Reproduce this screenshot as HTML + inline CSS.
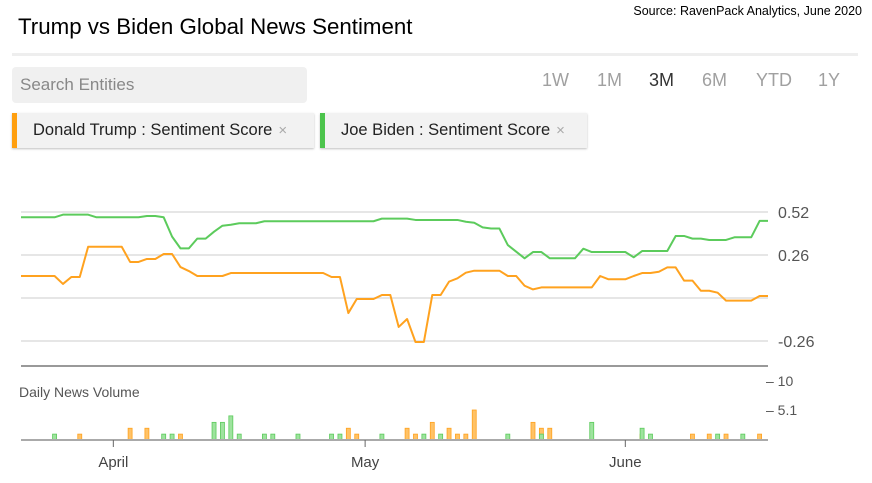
<!DOCTYPE html>
<html><head><meta charset="utf-8"><style>
body{margin:0;background:#fff;width:872px;height:483px;overflow:hidden;font-family:"Liberation Sans",sans-serif;position:relative}
.abs{position:absolute}
.rng{position:absolute;top:70px;font-size:18px;color:#a0a0a0}
.chip{position:absolute;top:113px;height:35px;background:#f2f2f2;box-shadow:0 1px 2px rgba(0,0,0,.25);font-size:16.5px;color:#222;line-height:35px;box-sizing:border-box;padding-left:16px}
.x{color:#aaa;font-size:15px;margin-left:6px}
</style></head><body>
<div class="abs" style="right:10px;top:4px;font-size:12.5px;color:#000">Source: RavenPack Analytics, June 2020</div>
<div class="abs" style="left:18px;top:14px;font-size:22.3px;color:#000">Trump vs Biden Global News Sentiment</div>
<div class="abs" style="left:12px;top:53px;width:846px;height:3px;background:#eee"></div>
<div class="abs" style="left:12px;top:67px;width:295px;height:36px;background:#f0f0f0;border-radius:4px;font-size:17px;color:#888;line-height:36px;padding-left:8px;box-sizing:border-box">Search Entities</div>
<div class="rng" style="left:542px">1W</div>
<div class="rng" style="left:597px">1M</div>
<div class="rng" style="left:649px;color:#333">3M</div>
<div class="rng" style="left:702px">6M</div>
<div class="rng" style="left:756px">YTD</div>
<div class="rng" style="left:818px">1Y</div>
<div class="chip" style="left:12px;width:302px;border-left:5px solid #ff9f0f">Donald Trump : Sentiment Score<span class="x">×</span></div>
<div class="chip" style="left:320px;width:267px;border-left:5px solid #4cc44c">Joe Biden : Sentiment Score<span class="x">×</span></div>
<svg id="chart" class="abs" style="left:0;top:0" width="872" height="483"></svg>
<script>
const trump=[0.133,0.133,0.133,0.133,0.133,0.085,0.127,0.127,0.31,0.31,0.31,0.31,0.31,0.218,0.218,0.236,0.236,0.266,0.266,0.187,0.163,0.133,0.133,0.133,0.133,0.151,0.151,0.151,0.151,0.151,0.151,0.151,0.151,0.151,0.151,0.151,0.151,0.127,0.127,-0.091,-0.006,-0.006,-0.006,0.018,0.018,-0.175,-0.127,-0.266,-0.266,0.018,0.018,0.099,0.119,0.153,0.165,0.165,0.165,0.165,0.133,0.133,0.074,0.052,0.064,0.064,0.064,0.064,0.064,0.064,0.064,0.133,0.113,0.113,0.113,0.133,0.151,0.151,0.159,0.185,0.185,0.105,0.105,0.044,0.044,0.032,-0.016,-0.016,-0.016,-0.016,0.012,0.012];
const biden=[0.488,0.488,0.488,0.488,0.488,0.504,0.504,0.504,0.504,0.488,0.488,0.488,0.488,0.488,0.488,0.496,0.496,0.488,0.371,0.30,0.30,0.359,0.359,0.401,0.437,0.443,0.452,0.452,0.452,0.464,0.464,0.464,0.464,0.464,0.464,0.464,0.464,0.464,0.464,0.464,0.464,0.464,0.464,0.48,0.48,0.48,0.48,0.472,0.472,0.472,0.472,0.472,0.472,0.461,0.455,0.427,0.42,0.42,0.32,0.28,0.24,0.278,0.278,0.24,0.24,0.24,0.24,0.298,0.278,0.278,0.278,0.278,0.278,0.246,0.284,0.284,0.284,0.284,0.375,0.375,0.359,0.359,0.351,0.351,0.351,0.367,0.367,0.367,0.466,0.466];
const yTicks=[0.52,0.26,-0.26];
const gridVals=[0.52,0.26,0,-0.26];
const volTicks=[10,5.1];
const trumpVolDays=[7,13,15,19,39,40,46,47,49,51,52,53,54,61,62,63,74,80,82,84,88];
const trumpVolVals=[1,2,2,1,2,1,2,1,3,2,1,1,5.1,3,2,2,1,1,1,1,1];
const bidenVolDays=[4,17,18,23,24,25,26,29,30,33,37,38,43,48,50,58,62,68,74,75,83,86];
const bidenVolVals=[1,1,1,3,3,4.1,1,1,1,1,1,1,1,1,1,1,1,3,2,1,1,1];
const months=["April","May","June"];
const monthDays=[11,41,72];

const X0=21,X1=768,N=trump.length;
const x=i=>X0+(X1-X0)*i/(N-1);
const y=v=>298-v*43/0.26;
const vy=v=>440-v*30/5.1;
const svg=document.getElementById('chart');
const NS='http://www.w3.org/2000/svg';
function mk(t,a){const e=document.createElementNS(NS,t);for(const k in a)e.setAttribute(k,a[k]);svg.appendChild(e);return e;}
gridVals.forEach(v=>{const l=mk('line',{x1:X0,x2:X1,y1:y(v),y2:y(v),stroke:'#ddd','stroke-width':1.5});

});
yTicks.forEach(v=>{const t=mk('text',{x:778,y:y(v)+6,'font-size':16,fill:'#555'});t.textContent=v.toFixed(2);

});
const sep=mk('line',{x1:X0,x2:X1,y1:366,y2:366,stroke:'#999','stroke-width':2});


function line(arr,col,name){const p=mk('polyline',{points:arr.map((v,i)=>x(i)+','+y(v)).join(' '),fill:'none',stroke:col,'stroke-width':2,'stroke-linejoin':'round'});

}
line(biden,'#5ccb5c','biden-sentiment-line');
line(trump,'#ffa21f','trump-sentiment-line');
volTicks.forEach(v=>{const t=mk('text',{x:766,y:vy(v)+5,'font-size':14,fill:'#555'});t.textContent='– '+v;

});
const vt=mk('text',{x:19,y:397,'font-size':14,fill:'#555'});vt.textContent='Daily News Volume';


function bars(days,vals,fill,stroke,name){days.forEach((d,k)=>{const b=mk('rect',{x:x(d)-2,y:vy(vals[k]),width:4,height:440-vy(vals[k]),fill:fill,stroke:stroke,'stroke-width':0.8});

});}
bars(trumpVolDays,trumpVolVals,'#ffc266','#ffa21f','trump-volume-bar');
bars(bidenVolDays,bidenVolVals,'#9ee39e','#5ccb5c','biden-volume-bar');
const base=mk('line',{x1:X0,x2:X1,y1:440,y2:440,stroke:'#aaa','stroke-width':2});


months.forEach((m,k)=>{const tx=x(monthDays[k]);const tk=mk('line',{x1:tx,x2:tx,y1:440,y2:447,stroke:'#666'});


const t=mk('text',{x:tx,y:467,'font-size':15,fill:'#444','text-anchor':'middle'});t.textContent=m;

});
</script>
</body></html>
